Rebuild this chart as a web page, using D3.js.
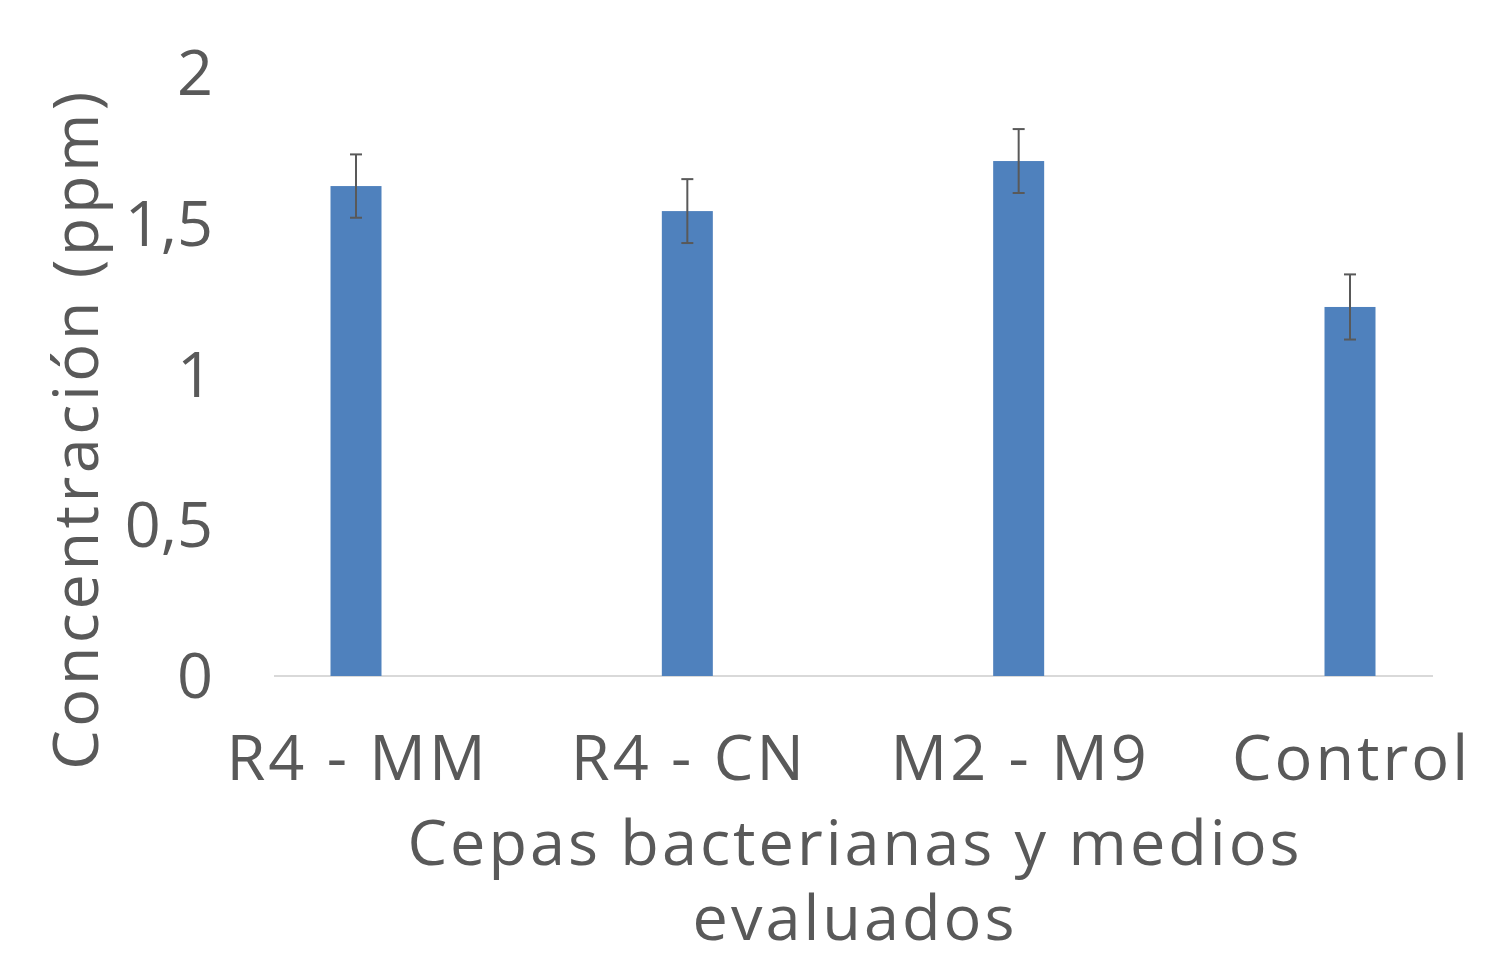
<!DOCTYPE html>
<html>
<head>
<meta charset="utf-8">
<script src="https://cdn.jsdelivr.net/npm/d3@7"></script>
<style>
  html, body { margin: 0; padding: 0; background: #fff; }
  svg text { font-family: "Open Sans", sans-serif; fill: #595959; }
</style>
</head>
<body>
<svg id="chart" width="1511" height="954"></svg>
<script>
const categories = ["R4 - MM", "R4 - CN", "M2 - M9", "Control"];
const values = [1.625, 1.542, 1.708, 1.224];
const errors = [0.105, 0.106, 0.106, 0.108];
const yTicks = [0, 0.5, 1, 1.5, 2];

const svg = d3.select("#chart");

const x = d3.scalePoint().domain(categories).range([356, 1350]);
const y = d3.scaleLinear().domain([0, 2]).range([676, 73]);
const barW = 51;

// axis line
svg.append("line")
  .attr("x1", 274).attr("x2", 1433)
  .attr("y1", y(0)).attr("y2", y(0))
  .attr("stroke", "#d9d9d9").attr("stroke-width", 2);

// y tick labels
svg.selectAll(".ytick")
  .data(yTicks)
  .join("text")
  .attr("class", "ytick")
  .attr("x", 213)
  .attr("y", d => y(d) + 22)
  .attr("text-anchor", "end")
  .style("font-size", "63px")
  .text(d => String(d).replace(".", ","));

// bars
svg.selectAll(".bar")
  .data(values)
  .join("rect")
  .attr("class", "bar")
  .attr("x", (d, i) => x(categories[i]) - barW / 2)
  .attr("width", barW)
  .attr("y", d => y(d))
  .attr("height", d => y(0) - y(d))
  .attr("fill", "#4f81bd");

// error bars
const eb = svg.selectAll(".err")
  .data(values)
  .join("g")
  .attr("class", "err")
  .attr("stroke", "#595959")
  .attr("stroke-width", 2);

eb.append("line")
  .attr("x1", (d, i) => x(categories[i])).attr("x2", (d, i) => x(categories[i]))
  .attr("y1", (d, i) => y(d + errors[i])).attr("y2", (d, i) => y(d - errors[i]));
eb.append("line")
  .attr("x1", (d, i) => x(categories[i]) - 6).attr("x2", (d, i) => x(categories[i]) + 6)
  .attr("y1", (d, i) => y(d + errors[i])).attr("y2", (d, i) => y(d + errors[i]));
eb.append("line")
  .attr("x1", (d, i) => x(categories[i]) - 6).attr("x2", (d, i) => x(categories[i]) + 6)
  .attr("y1", (d, i) => y(d - errors[i])).attr("y2", (d, i) => y(d - errors[i]));

// category labels
svg.selectAll(".xtick")
  .data(categories)
  .join("text")
  .attr("class", "xtick")
  .attr("x", d => x(d) + 1.5)
  .attr("y", 780)
  .attr("text-anchor", "middle")
  .style("font-size", "63px")
  .style("letter-spacing", "3px")
  .text(d => d);

// x axis title
svg.append("text")
  .attr("x", 855)
  .attr("y", 865)
  .attr("text-anchor", "middle")
  .style("font-size", "63px")
  .style("letter-spacing", "3px")
  .text("Cepas bacterianas y medios");
svg.append("text")
  .attr("x", 855)
  .attr("y", 940)
  .attr("text-anchor", "middle")
  .style("font-size", "63px")
  .style("letter-spacing", "3px")
  .text("evaluados");

// y axis title
svg.append("text")
  .attr("transform", "translate(98,429) rotate(-90)")
  .attr("text-anchor", "middle")
  .style("font-size", "63px")
  .style("letter-spacing", "3.5px")
  .text("Concentración (ppm)");
</script>
</body>
</html>
